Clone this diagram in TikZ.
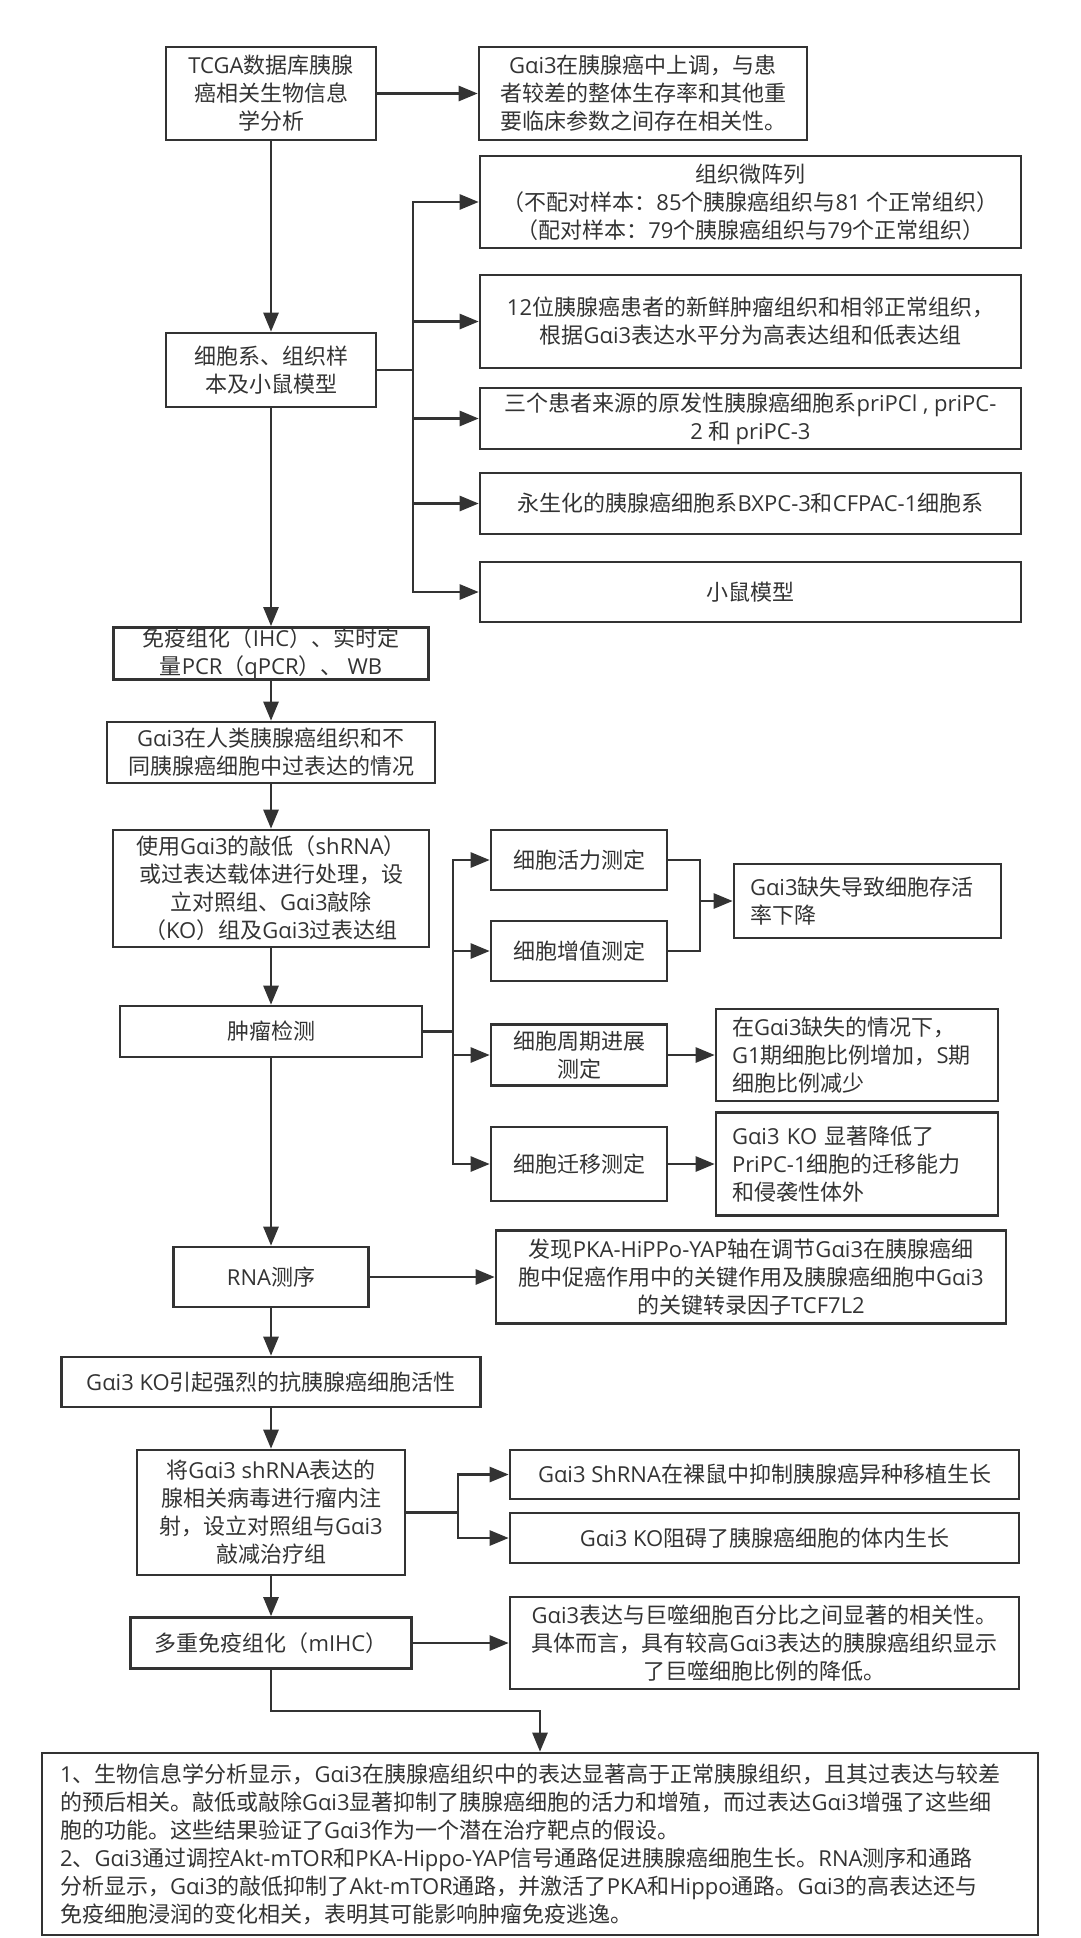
\documentclass[tikz,border=0pt]{standalone}
\usepackage{fontspec}
\setmainfont{Open Sans}
\newfontfamily\latinfont{Open Sans}
\newfontfamily\cjkfont{Noto Sans CJK SC}
\usetikzlibrary{arrows.meta}
\definecolor{linegray}{HTML}{333333}
\definecolor{textgray}{HTML}{333333}
% switch to the CJK font for Chinese characters and punctuation
\XeTeXinterchartokenstate=1
\newXeTeXintercharclass\cjkclass
\newcount\cjkcode
\cjkcode="3000
\loop \XeTeXcharclass\cjkcode=\cjkclass \ifnum\cjkcode<"303F \advance\cjkcode by 1 \repeat
\cjkcode="4E00
\loop \XeTeXcharclass\cjkcode=\cjkclass \ifnum\cjkcode<"9FFF \advance\cjkcode by 1 \repeat
\cjkcode="FF00
\loop \XeTeXcharclass\cjkcode=\cjkclass \ifnum\cjkcode<"FFEF \advance\cjkcode by 1 \repeat
\XeTeXinterchartoks 0 \cjkclass = {\cjkfont}
\XeTeXinterchartoks 4095 \cjkclass = {\cjkfont}
\XeTeXinterchartoks \cjkclass 0 = {\latinfont}
\XeTeXinterchartoks 4095 0 = {\latinfont}

\begin{document}
\begin{tikzpicture}[x=1pt,y=-1pt,
	flowbox/.style={draw=linegray, line width=2.6pt, align=center, inner xsep=6pt, inner ysep=0pt,
		text=textgray, font=\fontsize{22pt}{28pt}\selectfont},
	leftbox/.style={flowbox, align=left, inner xsep=16pt},
	arrowline/.style={draw=linegray, line width=2.6pt, -{Triangle[length=19pt,width=15pt]}},
	plainline/.style={draw=linegray, line width=2.6pt}]
	\useasboundingbox (0,0) rectangle (1080,1938);

	%Draw main steps
	\node[flowbox, minimum width=210pt, minimum height=93pt] (tcga) at (271,93.5) {TCGA数据库胰腺\\癌相关生物信息\\学分析};
	\node[flowbox, minimum width=210pt, minimum height=74pt] (cells) at (271,370) {细胞系、组织样\\本及小鼠模型};
	\node[flowbox, minimum width=315pt, minimum height=51pt] (ihc) at (271,653.5) {免疫组化（IHC）、实时定\\量PCR（qPCR）、 WB};
	\node[flowbox, minimum width=328pt, minimum height=61pt] (over) at (271,752.5) {Gαi3在人类胰腺癌组织和不\\同胰腺癌细胞中过表达的情况};
	\node[flowbox, minimum width=316pt, minimum height=117pt] (treat) at (271,888.5) {使用Gαi3的敲低（shRNA）\\或过表达载体进行处理，设\\立对照组、Gαi3敲除\\（KO）组及Gαi3过表达组};
	\node[flowbox, minimum width=302pt, minimum height=51pt] (tumor) at (271,1031.5) {肿瘤检测};
	\node[flowbox, minimum width=195pt, minimum height=60pt] (rna) at (271,1277) {RNA测序};
	\node[flowbox, minimum width=419pt, minimum height=50pt] (ko) at (271,1382) {Gαi3 KO引起强烈的抗胰腺癌细胞活性};
	\node[flowbox, minimum width=268pt, minimum height=125pt] (aav) at (271,1512.5) {将Gαi3 shRNA表达的\\腺相关病毒进行瘤内注\\射，设立对照组与Gαi3\\敲减治疗组};
	\node[flowbox, minimum width=281pt, minimum height=51pt] (mihc) at (271,1643) {多重免疫组化（mIHC）};

	%Draw samples
	\node[flowbox, minimum width=328pt, minimum height=93pt] (tcgares) at (643,93.5) {Gαi3在胰腺癌中上调，与患\\者较差的整体生存率和其他重\\要临床参数之间存在相关性。};
	\node[flowbox, minimum width=541pt, minimum height=92pt] (tma) at (750.5,202) {组织微阵列\\（不配对样本：85个胰腺癌组织与81 个正常组织）\\（配对样本：79个胰腺癌组织与79个正常组织）};
	\node[flowbox, minimum width=541pt, minimum height=93pt] (fresh) at (750.5,321.5) {12位胰腺癌患者的新鲜肿瘤组织和相邻正常组织，\\根据Gαi3表达水平分为高表达组和低表达组};
	\node[flowbox, minimum width=541pt, minimum height=61pt] (pri) at (750.5,418.5) {三个患者来源的原发性胰腺癌细胞系priPCl , priPC-\\2 和 priPC-3};
	\node[flowbox, minimum width=541pt, minimum height=61pt] (immort) at (750.5,503.5) {永生化的胰腺癌细胞系BXPC-3和CFPAC-1细胞系};
	\node[flowbox, minimum width=541pt, minimum height=60pt] (mouse) at (750.5,592) {小鼠模型};

	%Draw assays
	\node[flowbox, minimum width=176pt, minimum height=60pt] (viab) at (579,860) {细胞活力测定};
	\node[flowbox, minimum width=176pt, minimum height=60pt] (prolif) at (579,951) {细胞增值测定};
	\node[flowbox, minimum width=176pt, minimum height=61pt] (cycle) at (579,1055) {细胞周期进展\\测定};
	\node[flowbox, minimum width=176pt, minimum height=74pt] (migr) at (579,1164) {细胞迁移测定};
	\node[leftbox, text width=235pt, minimum height=74pt] (viabres) at (867.5,901) {Gαi3缺失导致细胞存活\\率下降};
	\node[leftbox, text width=250pt, minimum height=92pt] (cycleres) at (857,1055) {在Gαi3缺失的情况下，\\G1期细胞比例增加，S期\\细胞比例减少};
	\node[leftbox, text width=250pt, minimum height=103pt] (migrres) at (857,1164) {Gαi3 KO 显著降低了\\PriPC-1细胞的迁移能力\\和侵袭性体外};

	%Draw findings
	\node[flowbox, minimum width=510pt, minimum height=93pt] (rnares) at (751,1277) {发现PKA-HiPPo-YAP轴在调节Gαi3在胰腺癌细\\胞中促癌作用中的关键作用及胰腺癌细胞中Gαi3\\的关键转录因子TCF7L2};
	\node[flowbox, minimum width=509pt, minimum height=49pt] (xeno) at (764.5,1474.5) {Gαi3 ShRNA在裸鼠中抑制胰腺癌异种移植生长};
	\node[flowbox, minimum width=509pt, minimum height=50pt] (invivo) at (764.5,1538) {Gαi3 KO阻碍了胰腺癌细胞的体内生长};
	\node[flowbox, minimum width=509pt, minimum height=92pt] (mihcres) at (764.5,1643) {Gαi3表达与巨噬细胞百分比之间显著的相关性。\\具体而言，具有较高Gαi3表达的胰腺癌组织显示\\了巨噬细胞比例的降低。};

	%Draw summary
	\node[leftbox, inner xsep=18pt, text width=960pt, minimum height=182pt] (summary) at (540,1844) {1、生物信息学分析显示，Gαi3在胰腺癌组织中的表达显著高于正常胰腺组织，且其过表达与较差\\的预后相关。敲低或敲除Gαi3显著抑制了胰腺癌细胞的活力和增殖，而过表达Gαi3增强了这些细\\胞的功能。这些结果验证了Gαi3作为一个潜在治疗靶点的假设。\\2、Gαi3通过调控Akt-mTOR和PKA-Hippo-YAP信号通路促进胰腺癌细胞生长。RNA测序和通路\\分析显示，Gαi3的敲低抑制了Akt-mTOR通路，并激活了PKA和Hippo通路。Gαi3的高表达还与\\免疫细胞浸润的变化相关，表明其可能影响肿瘤免疫逃逸。};

	%Draw main flow
	\draw[arrowline] (tcga) -- (cells);
	\draw[arrowline] (cells) -- (ihc);
	\draw[arrowline] (ihc) -- (over);
	\draw[arrowline] (over) -- (treat);
	\draw[arrowline] (treat) -- (tumor);
	\draw[arrowline] (tumor) -- (rna);
	\draw[arrowline] (rna) -- (ko);
	\draw[arrowline] (ko) -- (aav);
	\draw[arrowline] (aav) -- (mihc);
	\draw[arrowline] (mihc.south) -- ++(0,41) -| (summary.north);

	%Draw side arrows
	\draw[arrowline] (tcga) -- (tcgares);
	\draw[arrowline] (cycle) -- (cycleres);
	\draw[arrowline] (migr) -- (migrres);
	\draw[arrowline] (rna) -- (rnares);
	\draw[arrowline] (mihc) -- (mihcres);

	%Draw forks
	\coordinate (cells fork) at (413,370);
	\draw[plainline] (cells.east) -- (cells fork);
	\foreach \s in {tma,fresh,pri,immort,mouse}
		\draw[arrowline] (cells fork) |- (\s.west);
	\coordinate (tumor fork) at (453,1031.5);
	\draw[plainline] (tumor.east) -- (tumor fork);
	\foreach \s in {viab,prolif,cycle,migr}
		\draw[arrowline] (tumor fork) |- (\s.west);
	\coordinate (aav fork) at (458,1512.5);
	\draw[plainline] (aav.east) -- (aav fork);
	\foreach \s in {xeno,invivo}
		\draw[arrowline] (aav fork) |- (\s.west);

	%Draw join
	\coordinate (viab join) at (700,901);
	\draw[plainline] (viab.east) -| (viab join);
	\draw[plainline] (prolif.east) -| (viab join);
	\draw[arrowline] (viab join) -- (viabres.west);
\end{tikzpicture}
\end{document}
